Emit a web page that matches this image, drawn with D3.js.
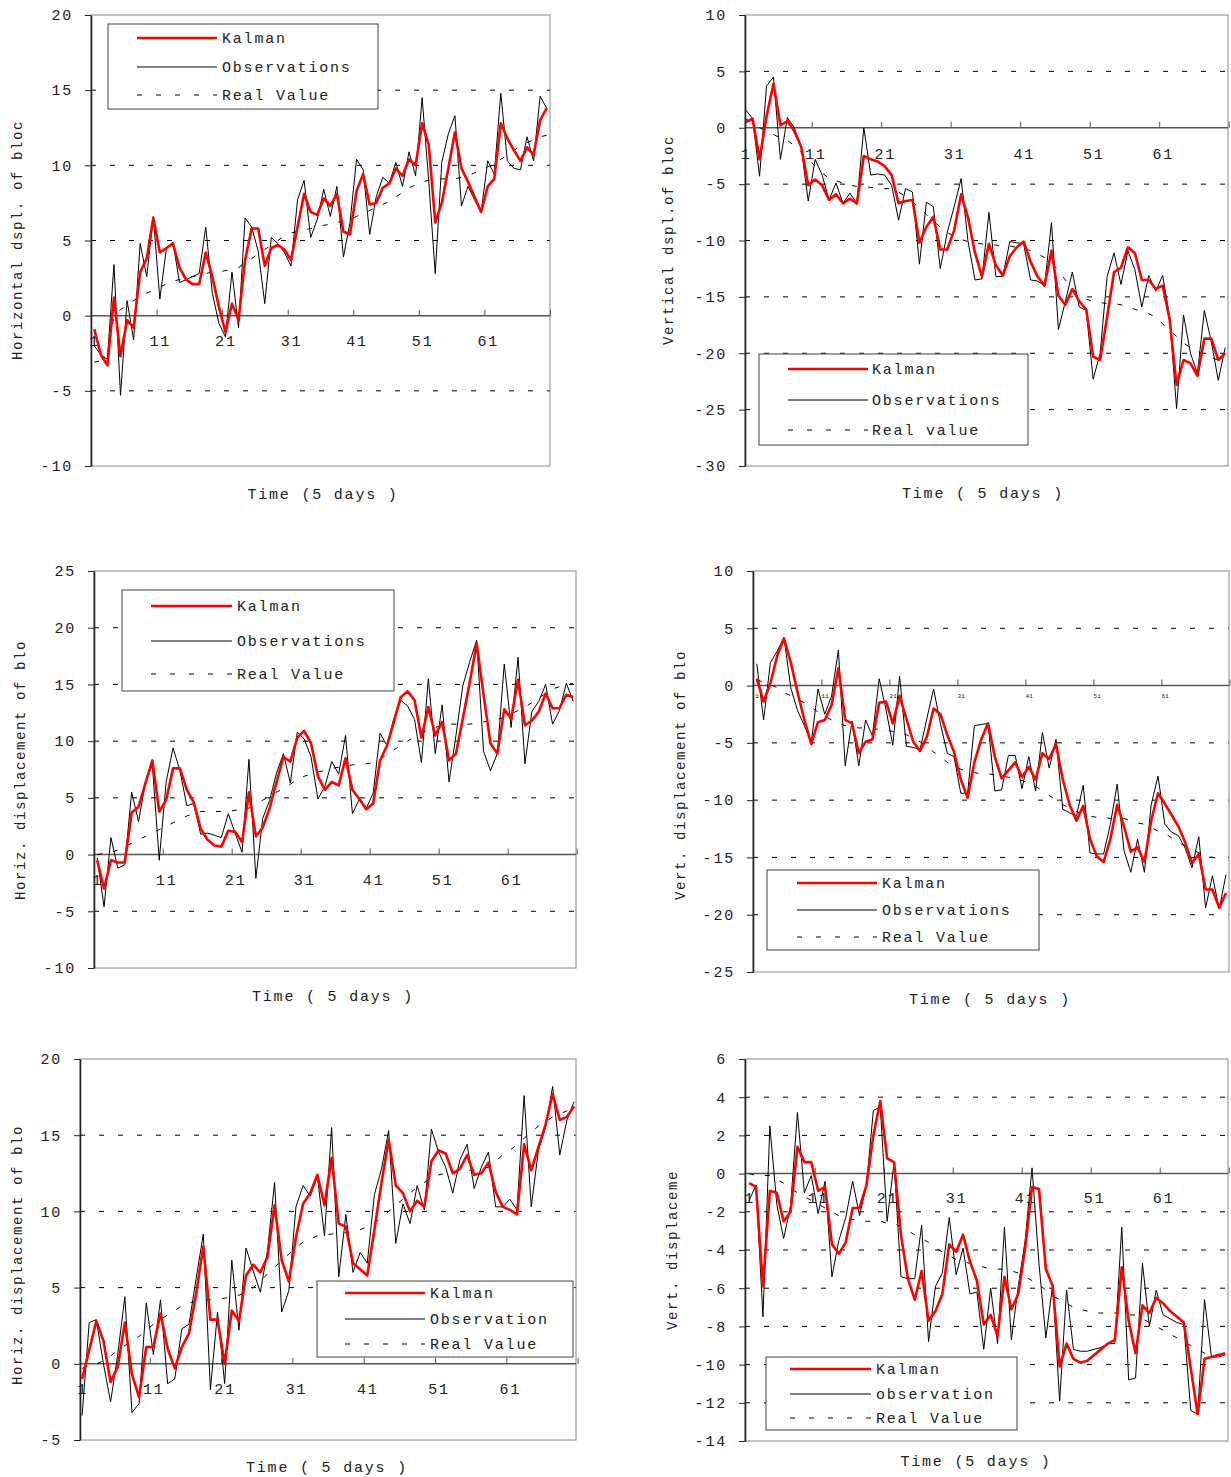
<!DOCTYPE html>
<html>
<head>
<meta charset="utf-8">
<script src="https://cdn.jsdelivr.net/npm/d3@7"></script>
<style>
  body { margin: 0; background: #fff; }
  svg text { font-family: "Liberation Mono", "DejaVu Sans Mono", monospace; fill: #222; }
</style>
</head>
<body>
<div id="chart"></div>
<script>
// ---- data (index 1..70, step = 5 days) ----
const xTickAt = [1, 11, 21, 31, 41, 51, 61];
const xTickLabels = ['1', '11', '21', '31', '41', '51', '61'];

// panel 1 : horizontal displacement
const p1Kalman = [-0.9,-2.6,-3.3,1.2,-2.7,-0.3,-0.8,2.9,3.8,6.5, 4.2,4.5,4.8,3.2,2.4,2.1,2.1,4.2,2.6,0.6,
  -1.1,0.8,-0.3,3.7,5.8,5.8,3.3,4.5,4.7,4.4, 3.7,5.9,8.1,6.9,6.7,7.8,7.3,8.1,5.6,5.4,
  8.3,9.4,7.4,7.5,8.5,8.8,9.8,9.3,10.4,10.0, 12.8,11.4,6.2,7.5,9.8,12.2,9.8,8.9,7.9,6.9,
  8.6,9.1,12.8,11.8,11.0,10.3,11.2,10.7,13.0,13.8];
const p1Obs = [-2.0,-2.6,-2.9,3.4,-5.3,1.0,-1.6,4.8,2.6,6.6, 1.1,4.5,4.9,2.2,2.4,2.6,2.8,5.9,1.5,-0.5,
  -1.4,2.9,-0.8,6.5,5.9,4.3,0.8,5.2,4.8,4.2, 3.3,7.7,9.0,5.2,6.4,8.4,6.6,8.6,3.9,6.2,
  10.4,9.7,5.4,7.9,9.2,8.8,10.2,8.6,10.9,9.3, 14.5,9.0,2.8,10.2,12.1,13.3,7.3,8.6,7.7,6.9,
  10.3,9.4,14.8,10.3,9.8,9.7,11.9,10.3,14.6,13.8];
const p1Real = [-3.1,-3.0,-2.8,0.0,0.4,0.7,1.0,1.3,1.5,1.7, 1.9,2.1,2.3,2.4,2.5,2.6,2.7,2.8,2.9,2.9,
  3.0,3.1,3.2,3.5,3.8,4.1,4.4,4.7,5.0,5.3, 5.5,5.6,5.7,5.8,5.9,6.0,6.1,6.2,6.3,6.4,
  6.6,6.8,7.0,7.2,7.4,7.6,7.9,8.2,8.5,8.7, 8.9,9.0,9.1,9.1,9.1,9.1,9.2,9.3,9.5,9.7,
  9.9,10.1,10.4,10.7,11.0,11.3,11.5,11.7,11.9,12.0];

// panel 2 : vertical displacement
const p2Kalman = [0.5,0.8,-2.8,1.0,3.9,0.2,0.6,-0.3,-1.7,-5.1, -4.6,-5.1,-6.4,-5.9,-6.7,-6.3,-6.7,-2.5,-2.8,-3.0,
  -3.4,-4.2,-6.7,-6.5,-6.4,-10.2,-8.8,-7.9,-10.8,-10.8, -9.1,-5.9,-8.0,-11.1,-13.2,-10.3,-12.2,-13.1,-11.4,-10.6,
  -10.1,-11.9,-13.2,-14.0,-10.9,-14.9,-15.7,-14.3,-15.4,-16.1, -20.3,-20.6,-16.8,-12.8,-12.4,-10.6,-11.1,-13.5,-13.5,-14.3,
  -14.0,-17.0,-22.8,-20.6,-20.9,-22.0,-18.7,-18.7,-20.6,-20.0];
const p2Obs = [1.6,0.8,-4.3,3.7,4.5,-2.8,0.9,0.0,-1.8,-6.5, -2.8,-4.2,-6.4,-4.9,-6.7,-5.8,-6.7,0.0,-4.2,-4.1,
  -4.2,-5.1,-8.2,-5.4,-5.7,-12.1,-6.6,-7.0,-12.5,-9.3, -7.0,-4.5,-10.1,-13.5,-13.4,-7.5,-13.2,-13.2,-10.1,-10.2,
  -10.3,-13.5,-13.6,-14.0,-8.4,-17.9,-15.4,-12.8,-15.9,-16.2, -22.3,-20.0,-13.2,-11.1,-13.9,-10.9,-12.6,-15.9,-13.1,-14.5,
  -13.1,-16.8,-24.9,-16.6,-20.0,-21.8,-16.2,-19.0,-22.4,-19.5];
const p2Real = [0.8,0.4,0.0,-0.3,-0.6,-0.9,-1.1,-1.6,-2.2,-2.8, -3.4,-4.0,-4.5,-4.7,-4.9,-5.1,-5.2,-5.2,-5.3,-5.3,
  -5.4,-5.4,-5.7,-6.1,-6.6,-7.1,-7.7,-8.3,-8.8,-9.3, -9.6,-9.9,-10.1,-10.2,-10.3,-10.4,-10.4,-10.5,-10.5,-10.6,
  -10.7,-10.9,-11.2,-11.5,-11.9,-12.7,-13.5,-14.3,-14.8,-15.2, -15.4,-15.5,-15.6,-15.6,-15.7,-15.9,-16.1,-16.3,-16.5,-16.8,
  -17.4,-18.0,-18.5,-19.1,-19.5,-19.8,-20.2,-20.4,-20.6,-20.8];

// panel 3 : horizontal displacement
const p3Kalman = [-0.5,-3.0,-0.5,-0.7,-0.7,3.7,4.2,6.3,8.3,3.8, 4.8,7.6,7.6,5.7,4.6,2.3,1.3,0.8,0.7,2.1,
  2.0,1.1,5.5,1.6,2.4,4.1,6.4,8.6,8.2,10.3, 10.9,9.8,6.9,5.7,6.4,6.1,8.5,5.7,4.9,4.0,
  4.5,8.3,9.6,11.7,13.9,14.4,13.6,10.3,13.0,10.5, 11.7,8.3,8.9,12.0,15.2,18.6,14.1,9.8,8.9,12.8,
  12.0,15.4,11.4,11.8,12.6,14.2,12.9,12.9,14.1,13.9];
const p3Obs = [-0.3,-4.6,1.5,-1.2,-0.9,5.5,2.9,6.4,7.9,-0.5, 6.4,9.4,7.4,4.3,4.5,1.8,1.9,1.7,1.5,3.6,
  1.9,0.2,8.4,-2.1,3.2,4.8,7.2,8.9,6.3,10.8, 10.2,8.6,4.9,6.0,8.2,7.1,10.5,3.6,4.9,4.1,
  5.4,10.7,9.6,12.0,13.6,13.1,11.9,8.1,15.5,8.9, 13.2,6.4,10.5,14.9,17.0,18.9,9.1,7.4,8.9,16.8,
  11.2,17.4,8.0,12.6,13.5,15.0,11.5,12.7,15.1,13.5];
const p3Real = [0.0,0.1,0.2,0.4,0.7,1.0,1.3,1.6,1.9,2.2, 2.5,2.8,3.1,3.4,3.6,3.8,3.8,3.8,3.8,3.8,
  3.9,4.0,4.1,4.4,4.8,5.1,5.5,5.8,6.2,6.6, 6.9,7.1,7.3,7.4,7.6,7.7,7.8,7.9,8.0,8.0,
  8.1,8.4,8.8,9.2,9.7,10.0,10.4,10.7,11.0,11.2, 11.4,11.5,11.5,11.5,11.5,11.6,11.7,11.8,11.9,12.1,
  12.4,12.7,13.0,13.4,13.8,14.2,14.6,14.8,15.0,15.1];

// panel 4 : vertical displacement
const p4Kalman = [0.6,-1.4,0.2,2.6,4.1,2.0,-0.6,-3.0,-5.1,-3.2, -3.0,-1.7,1.5,-3.0,-3.3,-5.9,-4.9,-4.7,-1.5,-1.4,
  -3.3,-0.9,-2.9,-4.9,-5.7,-4.5,-2.0,-2.5,-4.3,-5.8, -8.2,-9.8,-6.7,-4.7,-3.3,-6.2,-8.1,-7.4,-6.7,-8.0,
  -7.1,-8.2,-5.9,-6.4,-5.1,-8.2,-10.4,-11.8,-10.5,-13.4, -14.9,-15.4,-13.4,-10.4,-12.3,-14.5,-14.1,-15.4,-11.8,-9.4,
  -10.3,-11.3,-12.3,-13.7,-15.5,-14.7,-17.8,-17.8,-19.4,-18.1];
const p4Obs = [1.9,-3.0,2.0,3.0,4.2,-0.2,-2.2,-3.5,-5.0,-0.3, -2.5,-0.9,3.1,-7.0,-3.1,-7.0,-3.0,-4.4,0.6,-2.1,
  -5.2,0.8,-5.3,-5.4,-5.6,-2.9,-0.3,-3.3,-5.9,-6.2, -9.4,-9.4,-3.5,-3.4,-3.3,-9.2,-9.1,-6.1,-6.1,-9.0,
  -6.2,-9.2,-4.1,-7.2,-4.7,-10.8,-11.1,-11.4,-8.7,-14.6, -14.7,-14.7,-12.1,-8.6,-14.4,-16.3,-13.4,-16.3,-10.4,-7.9,
  -12.1,-12.8,-13.1,-14.2,-15.9,-13.2,-19.4,-16.6,-19.5,-16.5];
const p4Real = [0.5,0.3,0.1,-0.2,-0.6,-0.9,-1.2,-1.5,-1.9,-2.3, -2.7,-3.0,-3.3,-3.5,-3.6,-3.7,-3.7,-3.8,-3.8,-3.9,
  -4.0,-4.1,-4.3,-4.6,-4.9,-5.3,-5.8,-6.2,-6.7,-7.0, -7.3,-7.5,-7.6,-7.7,-7.7,-7.8,-7.9,-8.0,-8.1,-8.3,
  -8.5,-8.8,-9.2,-9.6,-10.0,-10.4,-10.7,-11.0,-11.2,-11.4, -11.5,-11.5,-11.6,-11.6,-11.6,-11.8,-12.0,-12.1,-12.4,-12.7,
  -12.9,-13.3,-13.7,-14.0,-14.3,-14.6,-14.8,-15.0,-15.1,-15.1];

// panel 5 : horizontal displacement
const p5Kalman = [-1.0,0.9,2.8,1.5,-1.2,-0.2,2.7,-0.7,-2.2,1.1, 1.1,3.3,1.0,-0.3,1.1,2.0,4.6,7.7,2.9,2.9,
  0.0,3.5,2.8,5.8,6.5,6.0,7.0,10.4,6.8,5.4, 8.3,10.5,11.2,12.4,10.4,13.5,9.2,9.0,6.6,6.2,
  5.8,8.8,11.9,14.7,11.7,11.2,10.0,10.7,10.3,13.3, 14.0,13.8,12.5,12.8,13.7,12.4,12.5,13.2,11.3,10.3,
  10.1,9.8,14.4,12.7,14.2,15.7,17.7,16.0,16.2,16.9];
const p5Obs = [-3.4,2.7,2.9,0.0,-2.5,0.6,4.4,-3.2,-2.6,4.0, 0.6,4.2,-1.3,-1.0,2.3,2.6,5.6,8.5,-1.7,3.4,
  -1.3,6.8,2.2,7.6,6.1,4.7,7.4,11.9,3.4,4.8, 10.3,11.7,11.0,12.3,8.4,15.5,5.7,9.8,6.0,7.3,
  6.6,11.1,12.8,15.3,7.9,10.5,9.2,11.7,10.1,15.4, 13.9,12.9,11.2,13.4,14.4,11.5,12.9,13.9,10.3,10.3,
  10.8,10.1,17.6,10.3,14.0,15.5,18.2,13.7,16.0,17.2];
const p5Real = [-0.3,-0.1,0.0,0.2,0.5,0.9,1.2,1.5,1.8,2.2, 2.6,2.9,3.2,3.5,3.8,4.0,4.1,4.2,4.2,4.3,
  4.3,4.4,4.5,4.7,5.0,5.4,5.9,6.3,6.8,7.2, 7.6,8.0,8.2,8.4,8.5,8.5,8.6,8.6,8.7,8.8,
  9.0,9.2,9.6,10.0,10.4,10.8,11.2,11.6,11.9,12.2, 12.4,12.5,12.6,12.6,12.7,12.7,12.8,12.9,13.3,13.7,
  14.0,14.4,14.8,15.2,15.6,15.9,16.2,16.4,16.6,16.8];

// panel 6 : vertical displacement
const p6Kalman = [-0.5,-0.7,-5.9,-0.9,-1.0,-2.5,-2.0,1.4,0.6,0.6, -0.9,-0.7,-3.7,-4.2,-3.6,-1.8,-1.8,-0.6,2.0,3.8,
  0.8,0.6,-3.2,-5.5,-6.6,-5.1,-7.7,-7.2,-6.3,-3.7, -4.1,-3.2,-4.6,-5.6,-7.9,-7.4,-8.5,-5.4,-7.1,-6.3,
  -3.9,-0.7,-0.8,-5.0,-5.9,-10.1,-8.9,-9.7,-9.9,-9.8, -9.5,-9.2,-8.9,-8.7,-4.9,-7.7,-9.4,-6.9,-7.3,-6.5,
  -6.8,-7.2,-7.5,-7.8,-10.2,-12.6,-9.7,-9.6,-9.5,-9.4];
const p6Obs = [-1.4,-0.6,-7.5,2.5,-1.6,-3.4,-1.7,3.2,-1.0,-0.1, -2.1,-0.4,-5.4,-3.5,-2.3,-0.4,-2.2,-0.6,3.3,3.5,
  -2.5,0.6,-5.4,-5.5,-5.5,-2.7,-8.8,-5.9,-5.2,-2.3, -5.3,-3.9,-6.3,-6.2,-9.2,-6.0,-8.9,-2.8,-8.7,-5.9,
  -3.5,0.3,-4.7,-8.6,-5.8,-11.9,-6.1,-9.2,-9.3,-9.3, -9.2,-9.1,-8.9,-8.9,-2.8,-10.8,-10.7,-4.7,-8.0,-6.1,
  -7.4,-7.6,-7.8,-7.9,-12.4,-12.6,-6.6,-9.6,-9.6,-9.5];
const p6Real = [0.0,-0.1,-0.1,-0.1,-0.3,-0.5,-0.8,-1.0,-1.2,-1.4, -1.6,-1.8,-2.0,-2.2,-2.3,-2.4,-2.4,-2.5,-2.5,-2.5,
  -2.6,-2.6,-2.8,-3.0,-3.2,-3.4,-3.6,-3.9,-4.1,-4.3, -4.5,-4.6,-4.7,-4.8,-4.9,-5.0,-5.0,-5.0,-5.1,-5.2,
  -5.4,-5.6,-5.8,-6.1,-6.4,-6.6,-6.8,-7.0,-7.1,-7.2, -7.3,-7.3,-7.3,-7.3,-7.3,-7.4,-7.4,-7.6,-7.8,-8.0,
  -8.2,-8.4,-8.6,-8.8,-9.0,-9.2,-9.4,-9.5,-9.5,-9.5];

const legend1 = ['Kalman', 'Observations', 'Real Value'];
const legend2 = ['Kalman', 'Observations', 'Real value'];
const legend3 = ['Kalman', 'Observations', 'Real Value'];
const legend4 = ['Kalman', 'Observations', 'Real Value'];
const legend5 = ['Kalman', 'Observation', 'Real Value'];
const legend6 = ['Kalman', 'observation', 'Real Value'];

// ---- layout of each panel (pixels) ----
const panels = [
  {kalman: p1Kalman, obs: p1Obs, real: p1Real, legend: legend1,
   yTitle: 'Horizontal dspl. of bloc', xTitle: 'Time (5 days )',
   box: {l: 91, t: 15, r: 550, b: 466}, x0: 91, w: 6.557, yDom: [-10, 20], yStep: 5,
   yt: {x: 22, y: 360}, xt: {x: 323, y: 499}, lblPad: 20, lblSize: 15,
   leg: {l: 108, t: 24, r: 378, b: 109, rows: [38, 67, 95], lx: 137, lx2: 217, tx: 222}},
  {kalman: p2Kalman, obs: p2Obs, real: p2Real, legend: legend2,
   yTitle: 'Vertical dspl.of bloc', xTitle: 'Time ( 5 days )',
   box: {l: 745, t: 15, r: 1228, b: 466}, x0: 742.2, w: 6.95, yDom: [-30, 10], yStep: 5,
   yt: {x: 673, y: 345}, xt: {x: 983, y: 498}, lblPad: 21, lblSize: 15,
   leg: {l: 759, t: 354, r: 1028, b: 445, rows: [369, 400, 430], lx: 788, lx2: 868, tx: 872}},
  {kalman: p3Kalman, obs: p3Obs, real: p3Real, legend: legend3,
   yTitle: 'Horiz. displacement of blo', xTitle: 'Time ( 5 days )',
   box: {l: 94, t: 571, r: 576, b: 968}, x0: 93.7, w: 6.9, yDom: [-10, 25], yStep: 5,
   yt: {x: 25, y: 900}, xt: {x: 333, y: 1001}, lblPad: 20, lblSize: 15,
   leg: {l: 122, t: 590, r: 394, b: 691, rows: [606, 641, 674], lx: 151, lx2: 232, tx: 237}},
  {kalman: p4Kalman, obs: p4Obs, real: p4Real, legend: legend4,
   yTitle: 'Vert. displacement of blo', xTitle: 'Time ( 5 days )',
   box: {l: 753, t: 571, r: 1229, b: 972}, x0: 753.4, w: 6.8, yDom: [-25, 10], yStep: 5,
   yt: {x: 685, y: 900}, xt: {x: 990, y: 1004}, lblPad: 8, lblSize: 6,
   leg: {l: 767, t: 870, r: 1039, b: 950, rows: [883, 910, 937], lx: 797, lx2: 877, tx: 882}},
  {kalman: p5Kalman, obs: p5Obs, real: p5Real, legend: legend5,
   yTitle: 'Horiz. displacement of blo', xTitle: 'Time ( 5 days )',
   box: {l: 80, t: 1059, r: 576, b: 1440}, x0: 78.5, w: 7.13, yDom: [-5, 20], yStep: 5,
   yt: {x: 22, y: 1385}, xt: {x: 327, y: 1472}, lblPad: 20, lblSize: 15,
   leg: {l: 317, t: 1281, r: 573, b: 1357, rows: [1293, 1319, 1344], lx: 345, lx2: 425, tx: 430}},
  {kalman: p6Kalman, obs: p6Obs, real: p6Real, legend: legend6,
   yTitle: 'Vert. displaceme', xTitle: 'Time (5 days )',
   box: {l: 745, t: 1059, r: 1228, b: 1441}, x0: 745.7, w: 6.9, yDom: [-14, 6], yStep: 2,
   yt: {x: 677, y: 1330}, xt: {x: 976, y: 1466}, lblPad: 19, lblSize: 15,
   leg: {l: 766, t: 1357, r: 1017, b: 1430, rows: [1369, 1394, 1418], lx: 790, lx2: 871, tx: 876}}
];

const svg = d3.select('#chart').append('svg')
  .attr('width', 1231)
  .attr('height', 1477);

const styles = [
  {key: 'real', color: '#000', width: 1, dash: '5,11'},
  {key: 'obs', color: '#000', width: 1, dash: null},
  {key: 'kalman', color: '#ff0000', width: 2.6, dash: null}
];

panels.forEach(p => {
  const g = svg.append('g');
  const x = d3.scaleLinear().domain([0.5, 70.5]).range([p.x0, p.x0 + 70 * p.w]);
  const y = d3.scaleLinear().domain(p.yDom).range([p.box.b, p.box.t]);
  const yTicks = d3.range(p.yDom[0], p.yDom[1] + 0.001, p.yStep);

  // dashed grid lines (not at 0 and not on the frame)
  g.selectAll('line.grid')
    .data(yTicks.filter(v => v !== 0 && v !== p.yDom[0] && v !== p.yDom[1]))
    .join('line')
    .attr('class', 'grid')
    .attr('x1', p.box.l).attr('x2', p.box.r)
    .attr('y1', d => y(d)).attr('y2', d => y(d))
    .attr('stroke', '#000')
    .attr('stroke-width', 1)
    .attr('stroke-dasharray', '5,14');

  // frame
  g.append('rect')
    .attr('x', p.box.l).attr('y', p.box.t)
    .attr('width', p.box.r - p.box.l).attr('height', p.box.b - p.box.t)
    .attr('fill', 'none').attr('stroke', '#888');

  // zero line with category tick marks pointing up
  g.append('line')
    .attr('x1', p.box.l).attr('x2', p.box.r)
    .attr('y1', y(0)).attr('y2', y(0))
    .attr('stroke', '#555').attr('stroke-width', 1.5);
  const marks = g.append('g')
    .attr('transform', `translate(0,${y(0)})`)
    .call(d3.axisTop(x).tickValues([10.5, 20.5, 30.5, 40.5, 50.5, 60.5, 70.5]).tickSize(6).tickSizeOuter(0).tickFormat(''));
  marks.select('.domain').remove();
  marks.selectAll('line').attr('stroke', '#555');

  // category labels under the zero line
  const lbl = g.append('g')
    .attr('transform', `translate(0,${y(0)})`)
    .call(d3.axisBottom(x).tickValues(xTickAt).tickSize(0).tickPadding(p.lblPad)
      .tickFormat((d, i) => xTickLabels[i]));
  lbl.select('.domain').remove();
  lbl.selectAll('text')
    .attr('font-size', p.lblSize)
    .style('letter-spacing', p.lblSize > 10 ? '1.8px' : '0.3px')
    .attr('font-family', null);

  // series
  styles.forEach(s => {
    const line = d3.line().x((d, i) => x(i + 1)).y(d => y(d));
    g.append('path')
      .datum(p[s.key])
      .attr('d', line)
      .attr('fill', 'none')
      .attr('stroke', s.color)
      .attr('stroke-width', s.width)
      .attr('stroke-linejoin', 'round')
      .attr('stroke-dasharray', s.dash);
  });

  // y axis (plain hyphen for negative numbers, as in the original)
  const ya = g.append('g')
    .attr('transform', `translate(${p.box.l},0)`)
    .call(d3.axisLeft(y).tickValues(yTicks).tickSize(6).tickSizeOuter(0).tickPadding(12).tickFormat(d => String(d)));
  ya.select('.domain').attr('stroke', '#222').attr('stroke-width', 1.6);
  ya.selectAll('line').attr('stroke', '#222');
  ya.selectAll('text')
    .attr('font-size', 15)
    .attr('font-family', null)
    .style('letter-spacing', '1.8px');

  // legend
  const lg = g.append('g');
  lg.append('rect')
    .attr('x', p.leg.l).attr('y', p.leg.t)
    .attr('width', p.leg.r - p.leg.l).attr('height', p.leg.b - p.leg.t)
    .attr('fill', '#fff').attr('stroke', '#444');
  const legStyles = [styles[2], styles[1], {color: '#000', width: 1, dash: '5,14'}];
  p.legend.forEach((name, i) => {
    const ry = p.leg.rows[i];
    lg.append('line')
      .attr('x1', p.leg.lx).attr('x2', p.leg.lx2)
      .attr('y1', ry).attr('y2', ry)
      .attr('stroke', legStyles[i].color)
      .attr('stroke-width', legStyles[i].width)
      .attr('stroke-dasharray', legStyles[i].dash);
    lg.append('text')
      .attr('x', p.leg.tx).attr('y', ry + 5)
      .attr('font-size', 15)
      .style('letter-spacing', '1.8px')
      .text(name);
  });

  // axis titles
  g.append('text')
    .attr('transform', `translate(${p.yt.x},${p.yt.y}) rotate(-90)`)
    .attr('font-size', 14)
    .style('letter-spacing', '1.6px')
    .text(p.yTitle);
  g.append('text')
    .attr('x', p.xt.x).attr('y', p.xt.y)
    .attr('text-anchor', 'middle')
    .attr('font-size', 15)
    .style('letter-spacing', '1.8px')
    .text(p.xTitle);
});
</script>
</body>
</html>
